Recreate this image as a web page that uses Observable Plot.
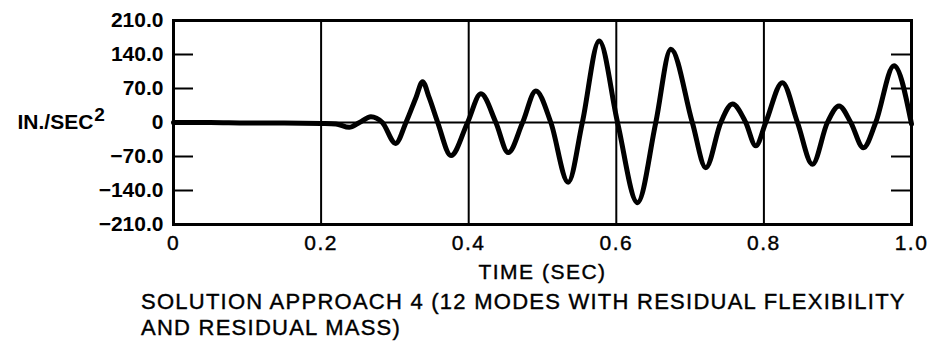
<!DOCTYPE html>
<html>
<head>
<meta charset="utf-8">
<script src="https://cdn.jsdelivr.net/npm/d3@7"></script>
<script src="https://cdn.jsdelivr.net/npm/@observablehq/plot@0.6"></script>
<style>
  html, body { margin: 0; padding: 0; background: #fff; }
  #chart { width: 932px; height: 285px; }
  #caption {
    font-family: "Liberation Sans", Arial, Helvetica, sans-serif;
    font-size: 22px; line-height: 26px; color: #000;
    letter-spacing: 1.25px; -webkit-text-stroke: 0.4px #000;
    margin-left: 141px; margin-top: 4px; white-space: nowrap;
  }
  #chart g[aria-label="x-axis tick label"] text,
  #chart .xlab text { letter-spacing: 1.5px; stroke: #000; stroke-width: 0.4px; }
</style>
</head>
<body>
<div id="chart"></div>
<div id="caption"></div>
<script>
// ---- data ----
const time  = [0, 0.05, 0.10, 0.15, 0.20, 0.22, 0.238, 0.252, 0.2675, 0.283, 0.301, 0.315, 0.3285, 0.3375, 0.3465, 0.358, 0.376, 0.3985,
               0.4165, 0.4368, 0.4535, 0.473, 0.491, 0.5113, 0.5348, 0.554, 0.5768, 0.6017, 0.6287, 0.6535, 0.6739, 0.703,
               0.7213, 0.7416, 0.7574, 0.7754, 0.789, 0.8025, 0.825, 0.8455, 0.8658, 0.886, 0.9018, 0.9177, 0.9348, 0.9515,
               0.9763, 1.0];
const accel = [0, 0, -1, -1, -2, -3, -10, 0, 12, 0, -43, 0, 51, 84, 51, 0, -68, 0,
               59, 0, -62, 0, 65, 0, -123, 0, 168, 0, -165, 0, 151, 0,
               -93, 0, 38, 0, -48, 0, 82, 0, -86, 0, 34, 0, -52, 0,
               117, -3];
const yTicks = [210, 140, 70, 0, -70, -140, -210];
const yTickLabels = ["210.0", "140.0", "70.0", "0", "\u221270.0", "\u2212140.0", "\u2212210.0"];
const xTicks = [0, 0.2, 0.4, 0.6, 0.8, 1.0];
const xTickLabels = ["0", "0.2", "0.4", "0.6", "0.8", "1.0"];
const gridTimes = [0.2, 0.4, 0.6, 0.8];
const xLabel = "TIME (SEC)";
const yLabelBase = "IN./SEC";
const yLabelSup = "2";
const captionLines = ["SOLUTION APPROACH 4 (12 MODES WITH RESIDUAL FLEXIBILITY", "AND RESIDUAL MASS)"];

// ---- chart ----
const W = 932, H = 285, mL = 173, mR = 21, mT = 20, mB = 61;
const innerW = W - mL - mR;
const tickLen = 20;
const data = time.map((t, i) => ({t, a: accel[i]}));
const yLabelMap = new Map(yTicks.map((d, i) => [d, yTickLabels[i]]));
const xLabelMap = new Map(xTicks.map((d, i) => [d, xTickLabels[i]]));
const innerTicks = yTicks.filter(d => d !== 0 && Math.abs(d) !== 210);
const font = "'Liberation Sans', Arial, Helvetica, sans-serif";

const chart = Plot.plot({
  width: W, height: H,
  marginTop: mT, marginBottom: mB, marginLeft: mL, marginRight: mR,
  x: {domain: [0, 1]},
  y: {domain: [-210, 210]},
  style: {fontFamily: font, background: "#fff", color: "#000"},
  marks: [
    Plot.ruleX(gridTimes, {stroke: "#000", strokeWidth: 2}),
    Plot.ruleY([0], {stroke: "#000", strokeWidth: 2}),
    Plot.tickY(innerTicks, {stroke: "#000", strokeWidth: 2, insetRight: innerW - tickLen}),
    Plot.tickY(innerTicks, {stroke: "#000", strokeWidth: 2, insetLeft: innerW - tickLen}),
    Plot.line(data, {x: "t", y: "a", stroke: "#000", strokeWidth: 5, curve: "monotone-x", strokeLinejoin: "round"}),
    Plot.frame({stroke: "#000", strokeWidth: 3}),
    Plot.axisY({ticks: yTicks, tickFormat: d => yLabelMap.get(d), tickSize: 0, tickPadding: 10,
                fontSize: 21, fontWeight: "bold", label: null}),
    Plot.axisX({ticks: xTicks, tickFormat: d => xLabelMap.get(d), tickSize: 0, tickPadding: 11,
                fontSize: 21, label: null}),
    Plot.text([xLabel], {frameAnchor: "bottom", dy: 54, fontSize: 21, className: "xlab"}),
    Plot.text([yLabelBase], {frameAnchor: "left", dx: -156, dy: 0, textAnchor: "start", fontSize: 21, fontWeight: "bold"})
  ]
});
document.getElementById("chart").appendChild(chart);

// superscript on the y unit label
chart.querySelectorAll("text").forEach(t => {
  if (t.textContent === yLabelBase) {
    const s = document.createElementNS("http://www.w3.org/2000/svg", "tspan");
    s.setAttribute("dy", "-8");
    s.setAttribute("dx", "1");
    s.setAttribute("font-size", "19");
    s.textContent = yLabelSup;
    t.appendChild(s);
  }
});

const cap = document.getElementById("caption");
captionLines.forEach(l => { const d = document.createElement("div"); d.textContent = l; cap.appendChild(d); });
</script>
</body>
</html>
